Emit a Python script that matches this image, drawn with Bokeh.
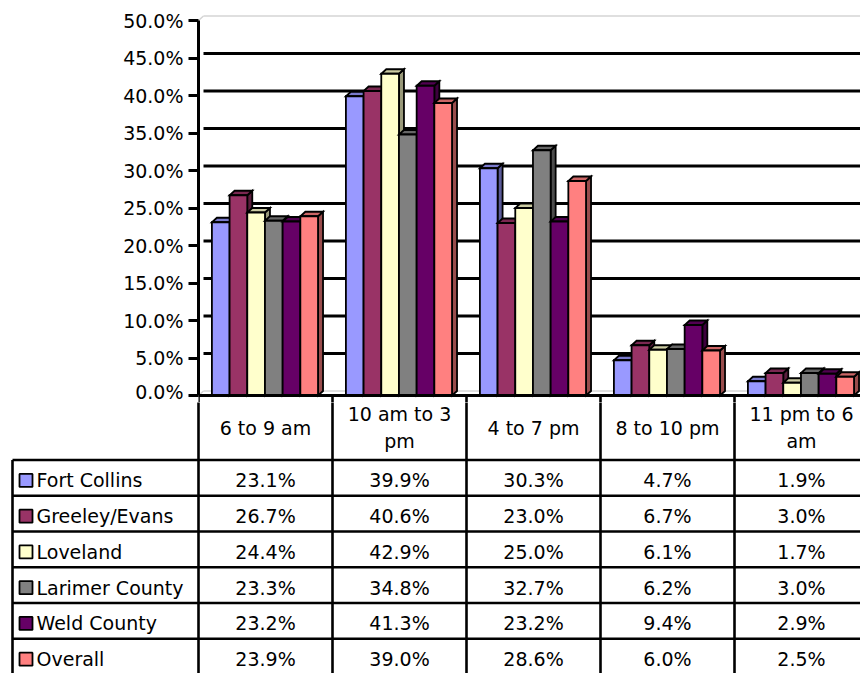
from bokeh.plotting import figure
from bokeh.models import Range1d, FixedTicker, PrintfTickFormatter
from bokeh.layouts import column
from bokeh.core.properties import value
from bokeh.embed import file_html
from bokeh.resources import INLINE

# ---- data -------------------------------------------------------------
periods = ["6 to 9 am", "10 am to 3\npm", "4 to 7 pm", "8 to 10 pm", "11 pm to 6\nam"]
areas = ["Fort Collins", "Greeley/Evans", "Loveland", "Larimer County", "Weld County", "Overall"]
fort_collins = [23.1, 39.9, 30.3, 4.7, 1.9]
greeley_evans = [26.7, 40.6, 23.0, 6.7, 3.0]
loveland = [24.4, 42.9, 25.0, 6.1, 1.7]
larimer_county = [23.3, 34.8, 32.7, 6.2, 3.0]
weld_county = [23.2, 41.3, 23.2, 9.4, 2.9]
overall = [23.9, 39.0, 28.6, 6.0, 2.5]
series = [fort_collins, greeley_evans, loveland, larimer_county, weld_county, overall]
colors = ["#9999FF", "#993366", "#FFFFCC", "#808080", "#660066", "#FF8080"]
y_ticks = [0, 5, 10, 15, 20, 25, 30, 35, 40, 45, 50]

# ---- layout constants (pixels) ---------------------------------------
W = 860
AXIS_X = 198          # left edge of the plotting frame
CAT_PX = 134          # width of one time-period column
PCT_PX = 7.5          # pixels per percentage point
ZERO_Y = 395          # pixel row of 0 %
CHART_H = 402
TABLE_H = 673 - CHART_H
ROW0_Y = 459.5        # first legend row top
ROW_PX = 35.75
FONT = "DejaVu Sans"
FSIZE = "19px"

x_end = (W - AXIS_X) / CAT_PX
dx = 5 / CAT_PX        # 3-D depth, horizontal
dy = 4.5 / PCT_PX      # 3-D depth, vertical
bar_w = 0.132
group_off = 0.1


def shade(hex_color, f):
    r, g, b = (int(hex_color[i:i + 2], 16) for i in (1, 3, 5))
    return "#%02x%02x%02x" % (int(r * f), int(g * f), int(b * f))


# ---- chart ------------------------------------------------------------
chart = figure(width=W, height=CHART_H,
               x_range=Range1d(0, x_end),
               y_range=Range1d(-(CHART_H - ZERO_Y) / PCT_PX, ZERO_Y / PCT_PX),
               output_backend="svg", toolbar_location=None,
               x_axis_location=None, y_axis_location="left",
               min_border_left=AXIS_X, min_border_right=0,
               min_border_top=0, min_border_bottom=0,
               frame_align=False)
chart.outline_line_color = None
chart.grid.visible = False
chart.background_fill_color = "white"

ax = chart.yaxis[0]
ax.ticker = FixedTicker(ticks=y_ticks)
ax.formatter = PrintfTickFormatter(format="%.1f%%")
ax.bounds = (0, 50)
ax.axis_line_width = 3
ax.axis_line_color = "black"
ax.major_tick_line_width = 3
ax.major_tick_out = 10
ax.major_tick_in = 0
ax.minor_tick_out = 0
ax.minor_tick_in = 0
ax.major_label_standoff = 5
ax.major_label_text_font = FONT
ax.major_label_text_font_size = FSIZE
ax.major_label_text_color = "black"

# back wall: gridlines, top edge and floor edge
grid_vals = [t for t in y_ticks if 0 < t < 50]
chart.segment(x0=[dx] * len(grid_vals), y0=[t + dy for t in grid_vals],
              x1=[x_end] * len(grid_vals), y1=[t + dy for t in grid_vals],
              line_color="black", line_width=2.8)
chart.segment(x0=[dx, 0, dx, 0], y0=[50 + dy, 50, dy, 0],
              x1=[x_end, dx, x_end, dx], y1=[50 + dy, 50 + dy, dy, dy],
              line_color="#d4d4d4", line_width=1.5)

# 3-D columns: side, top and front face for each bar, drawn left to right
xs, ys, fills = [], [], []
for c in range(len(periods)):
    for s, vals in enumerate(series):
        v = vals[c]
        x0 = c + group_off + s * bar_w
        x1 = x0 + bar_w
        xs.append([x1, x1, x1 + dx, x1 + dx])
        ys.append([0, v, v + dy, dy])
        fills.append(shade(colors[s], 0.6))
        xs.append([x0, x1, x1 + dx, x0 + dx])
        ys.append([v, v, v + dy, v + dy])
        fills.append(shade(colors[s], 0.8))
        xs.append([x0, x1, x1, x0])
        ys.append([0, 0, v, v])
        fills.append(colors[s])
chart.patches(xs=xs, ys=ys, fill_color=fills, line_color="black",
              line_width=1.8, line_join="miter")

# floor edge / table top border and the start of the column dividers
chart.segment(x0=[0], y0=[0], x1=[x_end], y1=[0], line_color="black", line_width=3)
n_div = len(periods) + 1
chart.segment(x0=list(range(n_div)), y0=[0] * n_div,
              x1=list(range(n_div)), y1=[-5] * n_div,
              line_color="black", line_width=2.6)

# ---- data table -------------------------------------------------------
def row_u(py):
    return (py - ROW0_Y) / ROW_PX


table = figure(width=W, height=TABLE_H,
               x_range=Range1d(-AXIS_X / CAT_PX, x_end),
               y_range=Range1d(start=row_u(673), end=row_u(CHART_H)),
               output_backend="svg", toolbar_location=None,
               x_axis_location=None, y_axis_location=None,
               min_border=0, frame_align=False)
table.outline_line_color = None
table.grid.visible = False

left_x = (12 - AXIS_X) / CAT_PX
n_rows = len(areas)
# horizontal rules
table.segment(x0=[left_x] * (n_rows + 1), y0=list(range(n_rows + 1)),
              x1=[x_end] * (n_rows + 1), y1=list(range(n_rows + 1)),
              line_color="black", line_width=2.6)
# vertical rules
table.segment(x0=list(range(n_div)), y0=[-3] * n_div,
              x1=list(range(n_div)), y1=[n_rows + 1] * n_div,
              line_color="black", line_width=2.6)
table.segment(x0=[left_x], y0=[0], x1=[left_x], y1=[n_rows + 1],
              line_color="black", line_width=2.6)

# column headers
table.text(x=[c + 0.5 for c in range(len(periods))],
           y=[row_u(427)] * len(periods), text=periods,
           text_align="center", text_baseline="middle",
           text_font=value(FONT), text_font_size=FSIZE,
           text_line_height=1.25, text_color="black")

# legend keys and names
row_mid = [r + 0.5 + 2.5 / ROW_PX for r in range(n_rows)]
key_x = (25.5 - AXIS_X) / CAT_PX
table.scatter(x=[key_x] * n_rows, y=row_mid, marker="square", size=13,
              fill_color=colors, line_color="black", line_width=1.8)
table.text(x=[(36 - AXIS_X) / CAT_PX] * n_rows, y=row_mid, text=areas,
           text_align="left", text_baseline="middle",
           text_font=value(FONT), text_font_size=FSIZE, text_color="black")

# values
vx, vy, vt = [], [], []
for r, vals in enumerate(series):
    for c, v in enumerate(vals):
        vx.append(c + 0.5)
        vy.append(row_mid[r])
        vt.append("%.1f%%" % v)
table.text(x=vx, y=vy, text=vt, text_align="center", text_baseline="middle",
           text_font=value(FONT), text_font_size=FSIZE, text_color="black")

page = column(chart, table, spacing=0)
open("out.html", "w").write(file_html(page, INLINE))
